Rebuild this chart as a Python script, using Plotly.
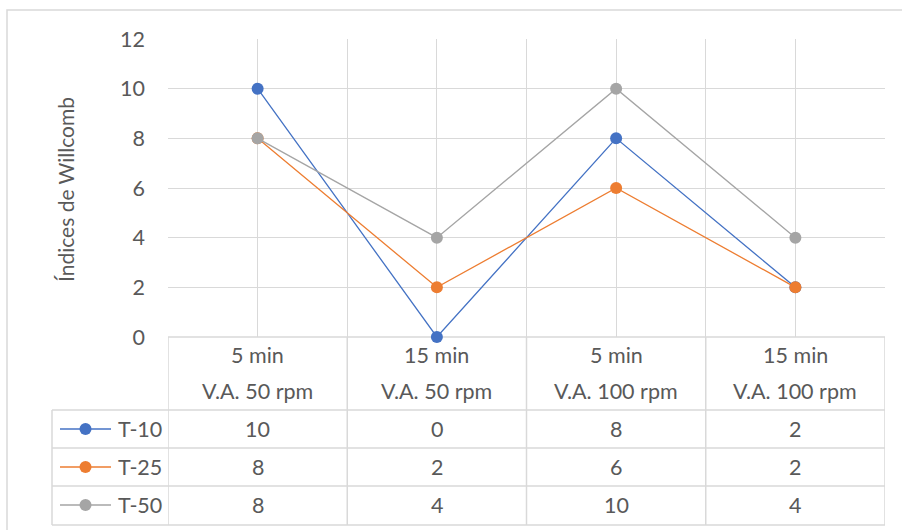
import plotly.graph_objects as go

categories_top = ["5 min", "15 min", "5 min", "15 min"]
categories_bottom = ["V.A. 50 rpm", "V.A. 50 rpm", "V.A. 100 rpm", "V.A. 100 rpm"]
series_names = ["T-10", "T-25", "T-50"]
t10 = [10, 0, 8, 2]
t25 = [8, 2, 6, 2]
t50 = [8, 4, 10, 4]
series_values = [t10, t25, t50]
colors = ["#4472C4", "#ED7D31", "#A5A5A5"]
y_ticks = [0, 2, 4, 6, 8, 10, 12]
y_title = "Índices de Willcomb"

W, H = 902, 530
FONT = "Lato"
FS = 21.5
TXT = "#595959"
GRID = "#d9d9d9"

def px(x):
    return x / W

def py(y):
    return 1 - y / H

plot_left, plot_right = 168, 885
plot_top, plot_bottom = 39, 337

fig = go.Figure()
xs = list(range(len(categories_top)))
for name, vals, col in zip(series_names, series_values, colors):
    fig.add_trace(go.Scatter(
        x=xs, y=vals, mode="lines+markers", name=name,
        line=dict(color=col, width=1.3),
        marker=dict(color=col, size=12),
        showlegend=False, cliponaxis=False,
    ))

shapes = []
annotations = []

# outer chart border
shapes.append(dict(type="rect", xref="paper", yref="paper",
                   x0=px(7), x1=px(910), y0=py(540), y1=py(10),
                   line=dict(color=GRID, width=1.5), layer="below"))

# table horizontal lines
row_lines = [410, 448, 486, 525]
for yy in row_lines:
    shapes.append(dict(type="line", xref="paper", yref="paper",
                       x0=px(52), x1=px(plot_right), y0=py(yy), y1=py(yy),
                       line=dict(color=GRID, width=1.5), layer="below"))
shapes.append(dict(type="line", xref="paper", yref="paper",
                   x0=px(plot_left), x1=px(plot_right), y0=py(plot_bottom), y1=py(plot_bottom),
                   line=dict(color=GRID, width=1.5), layer="below"))
# table vertical lines at category boundaries
for b in [-0.5, 0.5, 1.5, 2.5, 3.5]:
    shapes.append(dict(type="line", xref="x", yref="paper",
                       x0=b, x1=b, y0=py(525), y1=py(plot_bottom),
                       line=dict(color=GRID, width=1.5), layer="below"))
shapes.append(dict(type="line", xref="paper", yref="paper",
                   x0=px(52), x1=px(52), y0=py(525), y1=py(410),
                   line=dict(color=GRID, width=1.5), layer="below"))

def txt(x, xref, y, s, xanchor="center", size=FS, angle=0):
    return dict(x=x, xref=xref, y=y, yref="paper", text=s, showarrow=False,
                xanchor=xanchor, yanchor="middle", textangle=angle,
                font=dict(family=FONT, size=size, color=TXT))

# header text
for i in xs:
    annotations.append(txt(i, "x", py(355), categories_top[i]))
    annotations.append(txt(i, "x", py(391), categories_bottom[i]))

row_centers = [429, 467, 505]
for r, (name, vals, col) in enumerate(zip(series_names, series_values, colors)):
    yc = row_centers[r]
    for i, v in enumerate(vals):
        annotations.append(txt(i, "x", py(yc), str(v)))
    # legend key
    shapes.append(dict(type="line", xref="paper", yref="paper",
                       x0=px(60), x1=px(111), y0=py(yc), y1=py(yc),
                       line=dict(color=col, width=1.3)))
    shapes.append(dict(type="circle", xref="paper", yref="paper",
                       x0=px(79.5), x1=px(91.5), y0=py(yc + 6), y1=py(yc - 6),
                       fillcolor=col, line=dict(color=col, width=0)))
    annotations.append(txt(px(116), "paper", py(yc), name, xanchor="left"))

# y title
annotations.append(txt(px(66), "paper", py(190), y_title, size=21, angle=-90))

fig.update_layout(
    width=W, height=H, margin=dict(l=0, r=0, t=0, b=0, autoexpand=False),
    paper_bgcolor="white", plot_bgcolor="white",
    shapes=shapes, annotations=annotations,
    xaxis=dict(domain=[px(plot_left), px(plot_right)], range=[-0.5, 3.5],
               tickmode="linear", tick0=-0.5, dtick=0.5, showticklabels=False,
               showgrid=True, gridcolor=GRID, gridwidth=1.3, zeroline=False,
               showline=False, fixedrange=True, automargin=False),
    yaxis=dict(domain=[py(plot_bottom), py(plot_top)], range=[0, 12],
               tickvals=y_ticks, ticktext=[str(t) for t in y_ticks],
               showgrid=True, gridcolor=GRID, gridwidth=1.3, zeroline=False,
               showline=False, ticklabelstandoff=22, automargin=False,
               tickfont=dict(family=FONT, size=FS, color=TXT), fixedrange=True),
)

fig.write_html("out.html")
